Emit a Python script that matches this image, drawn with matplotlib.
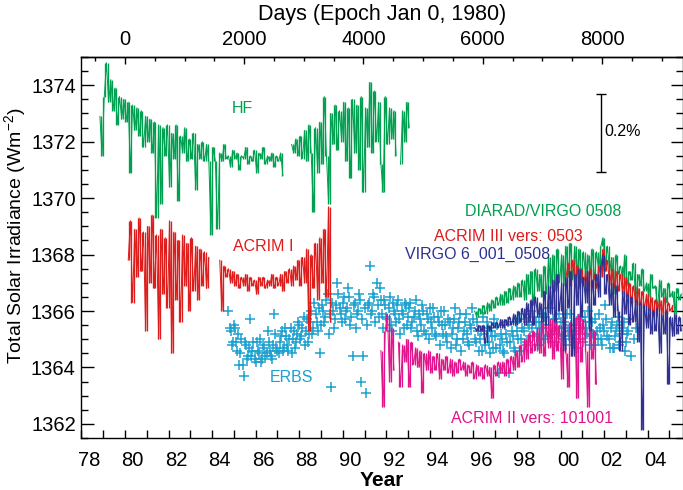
import numpy as np
import matplotlib
matplotlib.use("Agg")
import matplotlib.pyplot as plt
from matplotlib.ticker import FixedLocator, NullFormatter, FixedFormatter, MultipleLocator

plt.rcParams['font.family'] = ['Liberation Sans', 'DejaVu Sans']
plt.rcParams['mathtext.fontset'] = 'custom'
plt.rcParams['mathtext.rm'] = 'Liberation Sans'
plt.rcParams['mathtext.it'] = 'Liberation Sans:italic'

nan = np.nan
STEP = 0.1

# ---------------- data ----------------
hf_start = 1978.85
hf_vals = [
    1372.9, 1371.5, 1373.6, 1374.8, 1373.4, 1374.2, 1373.1, 1373.9, 1372.6, 1373.6,
    1372.8, 1373.5, 1372.7, 1373.4, 1370.9, 1373.3, 1372.4, 1373.2, 1372.2, 1373.1,
    1371.8, 1372.9, 1372.0, 1372.8, 1371.6, 1372.7, 1369.3, 1372.6, 1369.8, 1372.5,
    1371.5, 1372.6, 1370.4, 1372.3, 1371.4, 1372.6, 1369.9, 1372.2, 1371.6, 1372.5,
    1371.3, 1372.1, 1371.4, 1372.3, 1370.3, 1371.9, 1371.4, 1372.0, 1371.3, 1371.9,
    1371.3, 1368.7, 1371.8, 1371.3, 1368.9, 1371.6, 1371.3, 1371.9, 1371.4, 1371.5,
    1371.1, 1371.7, 1371.4, 1371.6, 1371.0, 1371.5, 1371.4, 1371.8, 1371.2, 1371.5,
    1371.3, 1371.7, 1370.9, 1371.6, 1371.4, 1371.8, 1371.2, 1371.5, 1371.3, 1371.6,
    1371.1, 1371.5, 1371.3, 1371.6, 1370.8,
    nan, nan, nan,
    1371.9, 1371.6, 1372.1, 1371.5, 1372.2, 1371.4, 1372.4, 1371.3, 1372.6, 1371.6,
    1369.5, 1372.5, 1370.9, 1372.7, 1371.2, 1373.6, 1371.5, 1369.8, 1373.0, 1371.9,
    1373.3, 1371.7, 1373.1, 1372.0, 1373.4, 1371.3, 1373.2, 1370.7, 1373.5, 1371.6,
    1373.3, 1371.0, 1373.6, 1370.2, 1373.2, 1371.8, 1374.1, 1371.6, 1373.8, 1372.0,
    1373.4, 1371.2, 1370.2, 1373.6, 1371.9, 1373.2, 1372.1, 1373.1, 1371.5,
    nan,
    1371.2, 1373.1, 1372.0, 1373.4, 1372.5,
]

acrim1_start = 1980.15
acrim1_vals = [
    1367.8, 1369.2, 1366.3, 1368.9, 1367.2, 1369.3, 1367.4, 1368.8, 1365.3, 1369.0,
    1367.0, 1369.4, 1366.8, 1368.7, 1365.0, 1368.9, 1366.6, 1368.6, 1366.1, 1369.2,
    1364.5, 1368.8, 1366.4, 1368.5, 1365.6, 1368.7, 1366.9, 1368.4, 1366.0, 1368.6,
    1366.7, 1368.3, 1366.4, 1368.2, 1366.9, 1368.1, 1366.8, 1367.9,
    nan, nan, nan, nan,
    1367.8, 1366.0, 1367.6, 1367.2, 1367.5, 1367.0, 1367.4, 1366.9, 1367.3, 1366.8,
    1367.2, 1366.9, 1367.3, 1366.7, 1367.2, 1366.9, 1367.1, 1366.6, 1367.2, 1366.9,
    1367.2, 1366.8, 1367.1, 1366.9, 1367.3, 1366.8, 1367.2, 1366.9, 1367.3, 1366.7,
    1367.4, 1367.0, 1367.5, 1366.9, 1367.6, 1367.1, 1367.8, 1366.9, 1367.9, 1367.0,
    1368.2, 1365.3, 1368.0, 1366.8, 1368.4, 1366.4, 1368.6, 1367.0, 1368.9, 1366.5,
    1369.7, 1365.6,
]

erbs_start = 1984.75
erbs_vals = [
    1366.0, 1365.3, 1364.9, 1365.4, 1364.6, 1364.1, 1365.0, 1363.7, 1364.8, 1364.4,
    1365.7, 1364.6, 1364.3, 1364.9, 1364.5, 1364.2, 1364.8, 1364.4, 1365.3, 1364.6,
    1364.3, 1365.9, 1364.7, 1364.5, 1365.1, 1364.6, 1365.4, 1364.8, 1365.0, 1364.5,
    1365.3, 1364.9, 1365.6, 1365.0, 1365.4, 1364.8, 1365.7, 1365.2, 1366.0, 1365.4,
    1365.9, 1365.3, 1364.5, 1366.2, 1365.6, 1366.4, 1365.2, 1363.3, 1366.0, 1365.7,
    1367.0, 1366.1, 1365.6, 1366.5, 1366.0, 1366.8, 1365.5, 1364.4, 1366.3, 1365.9,
    1366.6, 1363.5, 1364.4, 1363.1, 1366.2, 1367.6, 1366.0, 1366.5, 1367.0, 1365.8,
    1366.4, 1365.4, 1366.2, 1365.7, 1366.5, 1365.3, 1366.0, 1365.6, 1366.4, 1365.2,
    1365.9, 1366.3, 1365.5, 1366.1, 1365.4, 1365.8, 1366.4, 1365.1, 1365.7, 1366.2,
    1365.3, 1365.9, 1365.0, 1365.6, 1366.1, 1365.2, 1365.8, 1364.8, 1365.5, 1366.0,
    1365.1, 1365.7, 1364.7, 1365.4, 1366.1, 1365.0, 1365.6, 1364.6, 1365.3, 1365.9,
    1364.9, 1365.5, 1366.1, 1365.0, 1365.6, 1364.6, 1365.3, 1365.8, 1364.8, 1365.4,
    1364.5, 1365.1, 1365.7, 1364.7, 1363.8, 1365.2, 1364.6, 1365.5, 1364.9, 1363.8,
    1365.3, 1364.7, 1365.6, 1365.0, 1364.6, 1365.4, 1365.9, 1364.9, 1365.5, 1366.0,
    1365.1, 1365.6, 1364.8, 1365.4, 1365.9, 1365.0, 1365.5, 1366.1, 1365.2, 1365.7,
    1364.9, 1365.4, 1365.9, 1365.1, 1365.6, 1364.8, 1365.3, 1365.9, 1365.0, 1365.5,
    1364.7, 1365.2, 1365.8, 1364.9, 1365.4, 1366.0, 1365.1, 1365.6, 1364.8, 1365.3,
    1365.9, 1365.0, 1365.5, 1366.2, 1365.1, 1364.7, 1365.6, 1364.7, 1365.3, 1365.8,
    1364.9, 1365.4, 1364.6, 1365.2, 1365.7, 1364.4, 1365.0, 1365.4,
]

erbs2_start = 1984.8
erbs2_vals = [
    1365.4, 1364.8, 1365.5, 1364.9, 1365.2, 1364.5, 1364.1, 1364.9, 1364.3, 1364.7,
    1364.4, 1364.9, 1364.2, 1364.6, 1365.0, 1364.3, 1364.7, 1364.5, 1364.9, 1364.4,
    1364.8, 1365.2, 1364.6, 1364.9, 1365.3, 1364.7, 1365.1, 1364.6, 1365.4, 1365.0,
    1364.7, 1365.2, 1365.5, 1365.1, 1365.8, 1365.3, 1364.9, 1365.6, 1365.2, 1366.3,
    1365.6, 1366.1, 1365.5, 1366.0, 1365.8, 1366.6, 1365.9, 1366.3, 1365.4, 1366.2,
    1366.6, 1365.9, 1366.3, 1365.7, 1366.1, 1366.5, 1365.8, 1366.2, 1365.4, 1366.0,
    1366.4, 1365.7, 1366.1, 1365.5, 1366.3, 1365.9, 1366.6, 1365.6, 1366.2, 1366.8,
    1365.9, 1366.4, 1365.8, 1366.1, 1365.5, 1366.3, 1365.9, 1366.2, 1365.7, 1366.0,
    1365.4, 1366.2, 1365.8, 1366.3, 1365.6, 1366.0, 1365.3, 1365.9, 1365.5, 1366.0,
    1365.2, 1365.7, 1366.1, 1365.4, 1365.8, 1365.1, 1365.6, 1366.0, 1365.2, 1365.5,
    1364.9, 1365.6, 1365.2, 1365.7, 1364.8, 1365.4, 1365.9, 1365.0, 1365.6, 1365.2,
    1364.8, 1365.4, 1365.7, 1364.9, 1365.3, 1365.0, 1364.6, 1365.2, 1365.6, 1364.9,
    1365.3, 1364.7, 1365.1, 1365.5, 1364.8, 1365.0, 1364.5, 1365.2, 1365.6, 1364.9,
    1365.1, 1364.6, 1365.3, 1365.7, 1365.0, 1365.3, 1364.8, 1365.6, 1365.1, 1365.4,
    1365.8, 1365.2, 1365.6, 1365.0, 1365.4, 1365.8, 1365.1, 1365.5, 1364.9, 1365.3,
    1365.7, 1365.2, 1365.6, 1365.0, 1365.4, 1365.9, 1365.1, 1365.5, 1364.9, 1365.3,
    1365.7, 1365.0, 1365.4, 1365.8, 1365.2, 1365.6, 1364.8, 1365.2, 1365.7, 1365.0,
    1365.4, 1364.8, 1365.3, 1365.7, 1365.0, 1365.4, 1364.7, 1365.1, 1365.5, 1364.8,
    1365.2, 1365.6, 1364.9, 1365.3,
]

acrim2_start = 1991.75
acrim2_vals = [
    1364.6, 1362.6, 1365.3, 1365.9, 1363.5, 1365.4, 1363.9, nan, 1364.9, 1363.3,
    1364.8, 1364.2, 1365.0, 1363.3, 1364.9, 1364.1, 1364.7, 1364.0, 1364.6, 1363.1,
    1364.5, 1363.9, 1364.6, 1363.8, 1364.4, 1363.9, 1364.5, 1363.6, 1364.3, 1363.9,
    1364.4, 1363.8, 1364.3, 1363.7, 1364.2, 1363.8, 1364.3, 1363.9, 1364.2, 1363.7,
    1364.1, 1363.8, 1364.2, 1363.6, 1364.1, 1363.7, 1364.0, 1363.6, 1364.1, 1363.7,
    1364.0, 1362.9, 1364.1, 1363.7, 1364.2, 1363.8, 1364.2, 1363.7, 1364.3, 1363.8,
    1364.4, 1363.9, 1364.6, 1364.0, 1364.8, 1364.2, 1365.0, 1364.3, 1365.2, 1364.5,
    1365.3, 1364.6, 1365.4, 1364.5, 1365.6, 1364.4, 1365.5, 1364.7, 1365.7, 1364.3,
    1365.6, 1364.6, 1365.5, 1363.6, 1365.7, 1364.5, 1363.3, 1365.6, 1364.4, 1365.8,
    1362.9, 1365.9, 1364.2, 1365.7, 1364.6, 1362.6, 1365.4, 1364.3, 1365.3, 1363.4,
]

diarad_start = 1996.05
diarad_vals = [
    1366.0, 1365.8, 1366.1, 1365.9, 1366.2, 1365.9, 1366.3, 1366.0, 1366.4, 1366.1,
    1366.5, 1366.2, 1366.6, 1366.2, 1366.7, 1366.3, 1366.8, 1366.4, 1366.9, 1366.5,
    1367.0, 1366.5, 1367.1, 1366.4, 1367.3, 1366.6, 1367.4, 1366.2, 1367.5, 1366.7,
    1367.3, 1366.5, 1367.6, 1366.6, 1367.9, 1366.8, 1368.0, 1366.7, 1368.2, 1367.0,
    1368.0, 1366.9, 1368.3, 1367.2, 1368.4, 1367.1, 1368.3, 1367.3, 1368.2, 1367.0,
    1368.1, 1367.2, 1368.0, 1367.3, 1368.2, 1367.1, 1368.1, 1367.4, 1368.3, 1368.6,
    1367.6, 1368.3, 1367.4, 1367.9, 1366.6, 1368.0, 1367.3, 1367.6, 1367.1, 1368.0,
    1366.9, 1367.4, 1367.1, 1367.7, 1366.3, 1367.3, 1366.9, 1367.5, 1366.7, 1367.0,
    1366.5, 1367.3, 1366.8, 1366.9, 1366.1, 1367.1, 1366.5, 1366.8, 1366.3, 1367.0,
    1366.5, 1366.7, 1365.9, 1366.8, 1366.4, 1366.6,
]

acrim3_start = 2000.25
acrim3_vals = [
    1367.2, 1367.7, 1366.9, 1367.8, 1367.0, 1367.6, 1366.8, 1367.5, 1366.9, 1367.4,
    1366.7, 1367.5, 1366.9, 1367.3, 1366.8, 1367.6, 1367.2, 1368.2, 1367.4, 1367.8,
    1366.9, 1367.5, 1366.8, 1367.4, 1366.7, 1367.3, 1366.6, 1367.2, 1366.5, 1367.0,
    1366.3, 1366.9, 1366.2, 1366.8, 1366.2, 1366.7, 1366.1, 1366.6, 1366.0, 1366.5,
    1365.9, 1366.4, 1366.0, 1366.4, 1365.9, 1366.5, 1365.9, 1366.3, 1366.0, 1366.2,
]

virgo_start = 1996.05
virgo_vals = [
    1365.4, 1365.3, 1365.5, 1365.3, 1365.5, 1364.85, 1365.5, 1365.3, 1365.6, 1365.4,
    1365.6, 1365.4, 1365.7, 1365.4, 1365.7, 1365.5, 1365.8, 1365.5, 1365.9, 1365.5,
    1366.0, 1365.6, 1366.1, 1365.5, 1366.3, 1365.6, 1366.4, 1365.5, 1366.5, 1365.8,
    1366.3, 1365.6, 1366.7, 1365.5, 1366.9, 1365.9, 1367.1, 1365.6, 1367.3, 1366.0,
    1367.0, 1364.6, 1367.2, 1366.1, 1367.4, 1364.4, 1367.3, 1366.2, 1367.5, 1365.8,
    1367.2, 1366.3, 1367.4, 1365.3, 1367.1, 1366.2, 1367.3, 1366.5, 1367.6, 1368.0,
    1366.6, 1367.3, 1366.2, 1367.0, 1365.8, 1366.9, 1366.0, 1364.6, 1366.7, 1365.9,
    1366.6, 1365.5, 1366.5, 1365.6, 1366.4, 1364.9, 1366.3, 1361.8, 1366.2, 1365.4,
    1366.1, 1365.2, 1366.0, 1365.3, 1366.1, 1364.5, 1365.9, 1365.2, 1366.0, 1363.4,
    1365.8, 1365.1, 1365.9, 1365.2, 1365.8, 1365.3,
]

x_tick_labels = ['78', '80', '82', '84', '86', '88', '90', '92', '94', '96',
                 '98', '00', '02', '04']
x_label_years = [1978, 1980, 1982, 1984, 1986, 1988, 1990, 1992, 1994, 1996,
                 1998, 2000, 2002, 2004]
y_ticks = [1362, 1364, 1366, 1368, 1370, 1372, 1374]
day_ticks = [0, 2000, 4000, 6000, 8000]

C_HF = '#00a050'
C_RED = '#dd1c1c'
C_ERBS = '#1ba0d0'
C_MAG = '#e0158c'
C_NAVY = '#2e3192'

labels = [
    ('HF', 1985.41, 1373.18, C_HF),
    ('ACRIM I', 1986.33, 1368.29, C_RED),
    ('ERBS', 1987.65, 1363.66, C_ERBS),
    ('DIARAD/VIRGO 0508', 1999.19, 1369.51, C_HF),
    ('ACRIM III vers: 0503', 1997.58, 1368.65, C_RED),
    ('VIRGO 6_001_0508', 1996.18, 1367.99, C_NAVY),
    ('ACRIM II vers: 101001', 1998.69, 1362.18, C_MAG),
]

# ---------------- figure ----------------
fig = plt.figure(figsize=(6.83, 4.90), dpi=100)
ax = fig.add_axes([81.4 / 683, 52 / 490, 601.6 / 683, 381 / 490])

def yrs(start, vals):
    return start + STEP * np.arange(len(vals))

def draw_series(start, vals, color, z):
    # dense daily record: each step drawn as a vertical stroke between
    # successive readings, plus the thin connecting trace
    x = yrs(start, vals)
    v = np.asarray(vals, dtype=float)
    a, b = v[:-1], v[1:]
    ok = ~(np.isnan(a) | np.isnan(b))
    xm = (x[:-1] + x[1:]) / 2
    ax.vlines(xm[ok], np.minimum(a, b)[ok], np.maximum(a, b)[ok],
              color=color, lw=0.95, zorder=z)
    ax.plot(x, v, color=color, lw=0.7, zorder=z)

ax.plot(yrs(erbs_start, erbs_vals), erbs_vals, linestyle='none', marker='+',
        ms=7.5, mew=1.1, color=C_ERBS, zorder=2)
ax.plot(yrs(erbs2_start, erbs2_vals), erbs2_vals, linestyle='none', marker='+',
        ms=7.5, mew=1.1, color=C_ERBS, zorder=2)
draw_series(hf_start, hf_vals, C_HF, 3)
draw_series(acrim1_start, acrim1_vals, C_RED, 3)
draw_series(acrim2_start, acrim2_vals, C_MAG, 3)
draw_series(diarad_start, diarad_vals, C_HF, 4)
draw_series(acrim3_start, acrim3_vals, C_RED, 5)
draw_series(virgo_start, virgo_vals, C_NAVY, 6)

for txt, x, y, c in labels:
    ax.text(x, y, txt, color=c, fontsize=11.5, ha='center', va='center', zorder=7)

# 0.2% scale bar
bar_x, bar_lo, bar_hi = 2001.87, 1370.93, 1373.68
ax.errorbar([bar_x], [(bar_lo + bar_hi) / 2], yerr=[[(bar_hi - bar_lo) / 2]],
            color='black', lw=1.0, capsize=3.5, capthick=1.0, zorder=7)
ax.text(2002.02, 1372.37, '0.2%', fontsize=11.5, ha='left', va='center')

ax.set_xlim(1978.0, 2005.62)
ax.set_ylim(1361.5, 1375.0)

# bottom axis: tick at every year, labels offset into the year
ax.xaxis.set_major_locator(FixedLocator(np.arange(1978, 2006)))
ax.xaxis.set_major_formatter(NullFormatter())
ax.xaxis.set_minor_locator(FixedLocator([y + 0.35 for y in x_label_years]))
ax.xaxis.set_minor_formatter(FixedFormatter(x_tick_labels))
ax.tick_params(axis='x', which='major', direction='in', length=6, width=1.0,
               top=False, bottom=True)
ax.tick_params(axis='x', which='minor', length=0, labelsize=14.5, pad=9,
               top=False, bottom=True)

ax.set_yticks(y_ticks)
ax.yaxis.set_minor_locator(MultipleLocator(0.5))
ax.tick_params(axis='y', which='major', direction='in', length=9, width=1.0,
               labelsize=14.5, pad=4, left=True, right=True)
ax.tick_params(axis='y', which='minor', direction='in', length=5, width=1.0,
               left=True, right=True)

ax.set_xlabel('Year', fontsize=15, fontweight='bold', labelpad=1)
ax.set_ylabel('Total Solar Irradiance (Wm$^{-2}$)', fontsize=14)
ax.yaxis.set_label_coords(-0.089, 0.53)

for s in ax.spines.values():
    s.set_linewidth(1.0)

# top axis: days since Jan 0, 1980
def yr2day(y):
    return (np.asarray(y) - 1980.0) * 365.25

def day2yr(d):
    return np.asarray(d) / 365.25 + 1980.0

sec = ax.secondary_xaxis('top', functions=(yr2day, day2yr))
sec.set_xticks(day_ticks)
sec.xaxis.set_minor_locator(MultipleLocator(500))
sec.tick_params(axis='x', which='major', direction='in', length=5, width=1.0,
                labelsize=14.5, pad=6)
sec.tick_params(axis='x', which='minor', direction='in', length=3, width=1.0)
sec.set_xlabel('Days (Epoch Jan 0, 1980)', fontsize=15.5, labelpad=7)
sec.spines['top'].set_linewidth(1.0)

fig.savefig('out.png', dpi=100)
